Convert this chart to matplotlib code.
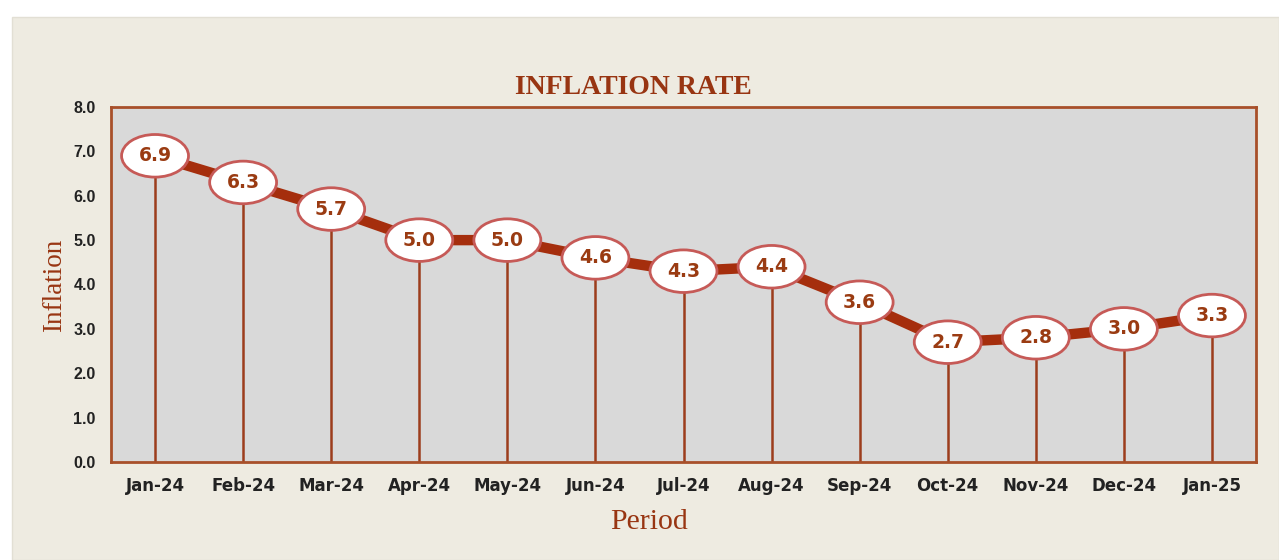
import matplotlib
matplotlib.use("Agg")
import matplotlib.pyplot as plt
from matplotlib.patches import Ellipse, Rectangle

periods = ["Jan-24", "Feb-24", "Mar-24", "Apr-24", "May-24", "Jun-24", "Jul-24",
           "Aug-24", "Sep-24", "Oct-24", "Nov-24", "Dec-24", "Jan-25"]
inflation = [6.9, 6.3, 5.7, 5.0, 5.0, 4.6, 4.3, 4.4, 3.6, 2.7, 2.8, 3.0, 3.3]
yticks = [0.0, 1.0, 2.0, 3.0, 4.0, 5.0, 6.0, 7.0, 8.0]

W, H = 1279, 560
fig = plt.figure(figsize=(W / 100, H / 100), dpi=100, facecolor="white")
bg = Rectangle((12 / W, 0), 1 - 12 / W, 1 - 17 / H, transform=fig.transFigure,
               facecolor="#eeebe1", edgecolor="#e2dfd4", lw=1, zorder=-10)
fig.add_artist(bg)

ax = fig.add_axes([111 / W, 1 - 462 / H, (1256 - 111) / W, (462 - 107) / H])
ax.set_zorder(1)
ax.set_facecolor("#d9d9d9")
x = list(range(len(periods)))
ax.set_xlim(-0.5, len(periods) - 0.5)
ax.set_ylim(0, 8)

ell_w = 0.76
ell_h = 0.96
line_col = "#a52e0d"
drop_col = "#9c3d1c"

ax.vlines(x, 0, inflation, color=drop_col, lw=1.8, zorder=2)
ax.plot(x, inflation, color=line_col, lw=7.5, solid_capstyle="butt", zorder=3)
for xi, v in zip(x, inflation):
    ax.add_patch(Ellipse((xi, v), ell_w, ell_h, facecolor="white", edgecolor="#c65a57",
                         lw=2, zorder=4))
    ax.text(xi, v, f"{v:.1f}", ha="center", va="center", fontsize=13.5, fontweight="bold",
            color="#9a3b12", family="DejaVu Sans", zorder=5)

ax.set_xticks(x)
ax.set_xticklabels(periods)
ax.set_yticks(yticks)
ax.set_yticklabels([f"{t:.1f}" for t in yticks])
ax.tick_params(axis="both", length=0, labelcolor="#222222")
ax.tick_params(axis="x", pad=11, labelsize=12)
ax.tick_params(axis="y", pad=11, labelsize=11.5)
for lab in ax.get_xticklabels():
    lab.set_fontweight("bold")
    lab.set_family("DejaVu Sans")
for lab in ax.get_yticklabels():
    lab.set_fontweight("bold")
    lab.set_family("Liberation Sans")
for s in ax.spines.values():
    s.set_color("#a8502a")
    s.set_linewidth(2)

txt_col = "#983512"
fig.text(633 / W, 1 - 88 / H, "INFLATION RATE", ha="center", va="center",
         fontsize=20, fontweight="bold", family="Liberation Serif", color=txt_col)
fig.text(649 / W, 1 - 522 / H, "Period", ha="center", va="center",
         fontsize=21.5, family="Liberation Serif", color=txt_col)
fig.text(55 / W, 1 - 285 / H, "Inflation", ha="center", va="center", rotation=90,
         fontsize=19.5, family="Liberation Serif", color=txt_col)

fig.savefig("out.png", dpi=100, facecolor=fig.get_facecolor())
